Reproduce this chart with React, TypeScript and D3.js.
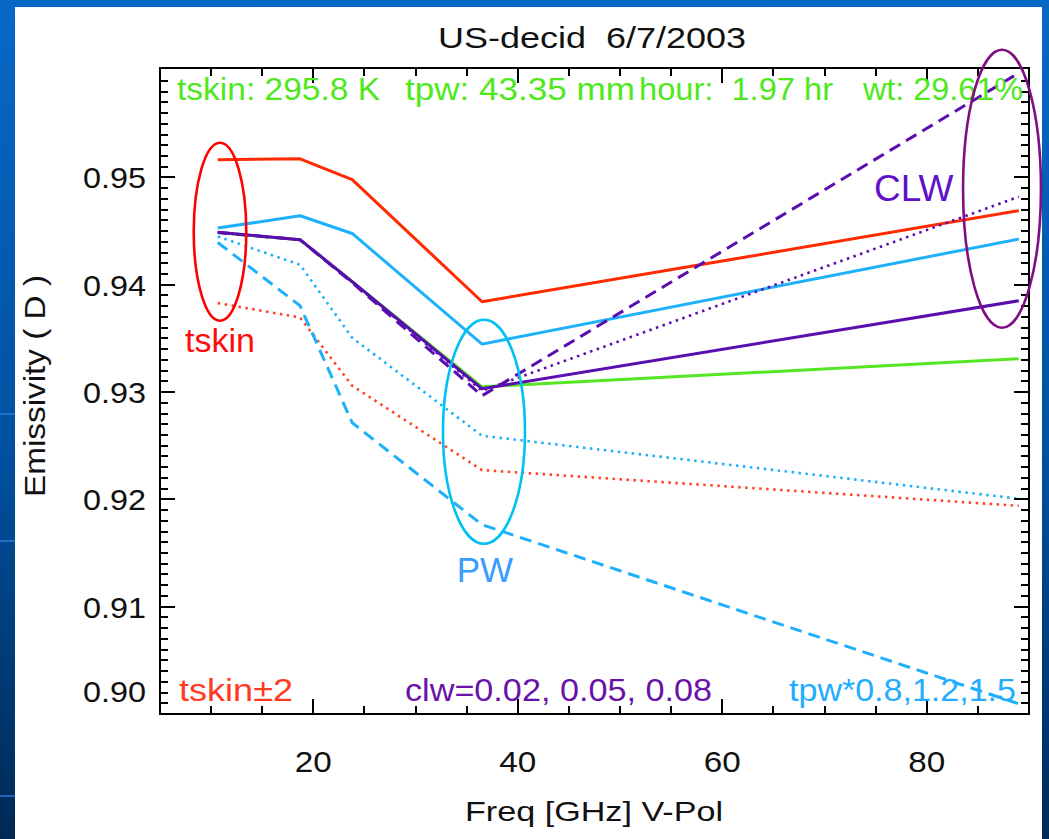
import * as d3 from 'd3';
import * as React from 'react';

const width = 1049;
const height = 839;
const frame = { left: 160, right: 1029, top: 68, bottom: 714 };
const font = '"Liberation Sans", Arial, Helvetica, sans-serif';

// AMSR-E channels, GHz
const freqs = [10.65, 18.7, 23.8, 36.5, 89];

// emissivity
const baseEmis = [0.94487, 0.94419, 0.94028, 0.93049, 0.9331];
const tskinUp = [0.95165, 0.95174, 0.94979, 0.93842, 0.9469];
const tskinDown = [0.93829, 0.93695, 0.93059, 0.92273, 0.9194];
const tpw08 = [0.94528, 0.94643, 0.94478, 0.93447, 0.94426];
const tpw12 = [0.9445, 0.94186, 0.93506, 0.92593, 0.92006];
const tpw15 = [0.94394, 0.93804, 0.92714, 0.91764, 0.90095];
const clw002 = [0.9449, 0.9442, 0.9403, 0.93031, 0.93851];
const clw005 = [0.94487, 0.94419, 0.94025, 0.93012, 0.9482];
const clw008 = [0.94487, 0.94419, 0.9402, 0.92966, 0.95973];

const xTicks = [20, 40, 60, 80];
const yTicks = [0.9, 0.91, 0.92, 0.93, 0.94, 0.95];

const infoTexts = ['tskin: 295.8 K', 'tpw: 43.35 mm', 'hour:  1.97 hr', 'wt: 29.61%'];
const footTexts = ['tskin\u00b12', 'clw=0.02, 0.05, 0.08', 'tpw*0.8,1.2,1.5'];

const red = '#ff2a00';
const redDot = '#ff4326';
const sky = '#1fb0fb';
const green = '#55e624';
const purple = '#5a0eb0';

const lines = [
  { values: tskinDown, color: redDot, dash: '2.5 4.5', w: 2.6 },
  { values: tpw12, color: sky, dash: '2.5 4.5', w: 2.6 },
  { values: tpw15, color: sky, dash: '12 7', w: 3 },
  { values: tskinUp, color: red, dash: null, w: 3 },
  { values: tpw08, color: sky, dash: null, w: 3 },
  { values: baseEmis, color: green, dash: null, w: 3 },
  { values: clw008, color: purple, dash: '12 7', w: 3 },
  { values: clw005, color: purple, dash: '2.5 4.5', w: 2.6 },
  { values: clw002, color: purple, dash: null, w: 3 },
];

// annotation rings in data units
const rings = [
  { cx: 10.87, cy: 0.94494, rx: 2.57, ry: 0.00829, color: '#ff0000' },
  { cx: 36.69, cy: 0.9263, rx: 4.01, ry: 0.01044, color: '#00c2f2' },
  { cx: 87.36, cy: 0.94895, rx: 3.81, ry: 0.01295, color: '#7e0f82' },
];
const notes = [
  { text: 'tskin', fx: 7.45, fy: 0.93372, size: 34, color: '#ff0d0d' },
  { text: 'PW', fx: 34.02, fy: 0.91226, size: 35, color: '#3a9cff' },
  { text: 'CLW', fx: 74.84, fy: 0.94783, size: 37, color: '#6110c8' },
];

export default function App() {
  const x = d3.scaleLinear().domain([5, 90]).range([frame.left, frame.right]);
  const y = d3.scaleLinear().domain([0.9, 0.9602]).range([frame.bottom, frame.top]);

  const path = d3
    .line<number>()
    .x((_, i) => x(freqs[i]))
    .y(d => y(d));

  const xMinor = d3.range(10, 90, 5);
  const yMinor = d3.range(901, 960).map(d => d / 1000);
  const fw = frame.right - frame.left;
  const fh = frame.bottom - frame.top;

  const infoX = [177, 405, 639, 863];
  const infoLen = [203, 230, 194, 160];
  const footX = [179, 405, 789];
  const footLen = [114, 307, 227];

  const tick = (k: string, x1: number, y1: number, x2: number, y2: number) => (
    <line key={k} x1={x1} y1={y1} x2={x2} y2={y2} stroke="#000" strokeWidth={2} />
  );

  return (
    <svg
      width={width}
      height={height}
      style={{ position: 'absolute', left: 0, top: 0, display: 'block' }}
      fontFamily={font}
    >
      <defs>
        <linearGradient id="bg" x1="0" y1="0" x2="0" y2="1">
          <stop offset="0%" stopColor="#0868c8" />
          <stop offset="55%" stopColor="#00509e" />
          <stop offset="100%" stopColor="#002955" />
        </linearGradient>
      </defs>
      <rect width={width} height={height} fill="url(#bg)" />
      {[413, 540, 795].map(v => (
        <rect key={v} x={0} y={v} width={15} height={2} fill="#2a80d8" opacity={0.7} />
      ))}
      <rect x={15} y={7} width={1027} height={height - 7} fill="#fff" />

      <text
        x={592}
        y={48}
        fontSize={30}
        textAnchor="middle"
        textLength={308}
        lengthAdjust="spacingAndGlyphs"
        fill="#111"
        style={{ whiteSpace: 'pre' }}
      >
        {'US-decid  6/7/2003'}
      </text>

      {/* data lines */}
      <g fill="none" strokeLinejoin="round">
        {lines.map((l, i) => (
          <path
            key={i}
            d={path(l.values) || ''}
            stroke={l.color}
            strokeWidth={l.w}
            strokeDasharray={l.dash || undefined}
          />
        ))}
      </g>

      {/* frame and ticks */}
      <g shapeRendering="crispEdges">
        <rect x={frame.left} y={frame.top} width={fw} height={fh} fill="none" stroke="#000" strokeWidth={2.5} />
        {yMinor.map(v => tick('yl' + v, frame.left, y(v), frame.left + 8, y(v)))}
        {yMinor.map(v => tick('yr' + v, frame.right, y(v), frame.right - 8, y(v)))}
        {yTicks.map(v => tick('Yl' + v, frame.left, y(v), frame.left + 15, y(v)))}
        {yTicks.map(v => tick('Yr' + v, frame.right, y(v), frame.right - 15, y(v)))}
        {xMinor.map(v => tick('xb' + v, x(v), frame.bottom, x(v), frame.bottom - (v % 20 ? 8 : 15)))}
        {xMinor.map(v => tick('xt' + v, x(v), frame.top, x(v), frame.top + (v % 20 ? 8 : 15)))}
      </g>

      {yTicks.map(v => (
        <text
          key={'yl' + v}
          x={146}
          y={(v === 0.9 ? 691 : y(v)) + 11}
          fontSize={30}
          textAnchor="end"
          textLength={63}
          lengthAdjust="spacingAndGlyphs"
          fill="#111"
        >
          {d3.format('.2f')(v)}
        </text>
      ))}
      {xTicks.map(v => (
        <text
          key={'xl' + v}
          x={x(v)}
          y={772}
          fontSize={30}
          textAnchor="middle"
          textLength={37}
          lengthAdjust="spacingAndGlyphs"
          fill="#111"
        >
          {v}
        </text>
      ))}
      <text x={594} y={821} fontSize={28} textAnchor="middle" textLength={258} lengthAdjust="spacingAndGlyphs" fill="#111">
        Freq [GHz] V-Pol
      </text>
      <text
        transform={`translate(45,386) rotate(-90)`}
        fontSize={30}
        textAnchor="middle"
        textLength={222}
        lengthAdjust="spacingAndGlyphs"
        fill="#111"
      >
        Emissivity ( D )
      </text>

      {infoTexts.map((t, i) => (
        <text
          key={t}
          x={infoX[i]}
          y={100}
          fontSize={32}
          textLength={infoLen[i]}
          lengthAdjust="spacingAndGlyphs"
          fill="#4ee81c"
          style={{ whiteSpace: 'pre' }}
        >
          {t}
        </text>
      ))}
      {footTexts.map((t, i) => (
        <text
          key={t}
          x={footX[i]}
          y={701}
          fontSize={32}
          textLength={footLen[i]}
          lengthAdjust="spacingAndGlyphs"
          fill={['#ff3a22', '#6a12a8', '#22adff'][i]}
        >
          {t}
        </text>
      ))}

      {/* annotations */}
      {rings.map((r, i) => (
        <ellipse
          key={i}
          cx={x(r.cx)}
          cy={y(r.cy)}
          rx={x(r.cx + r.rx) - x(r.cx)}
          ry={y(r.cy - r.ry) - y(r.cy)}
          fill="none"
          stroke={r.color}
          strokeWidth={2.6}
        />
      ))}
      {notes.map(n => (
        <text key={n.text} x={x(n.fx)} y={y(n.fy)} fontSize={n.size} fill={n.color}>
          {n.text}
        </text>
      ))}
    </svg>
  );
}
